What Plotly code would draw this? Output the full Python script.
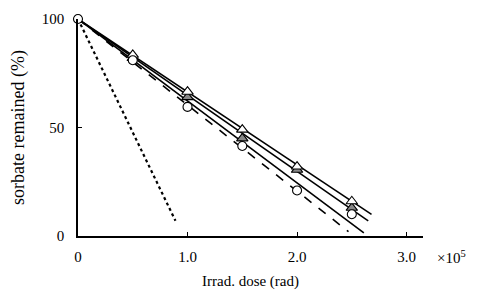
import plotly.graph_objects as go

# Data
dose = [0.5, 1.0, 1.5, 2.0, 2.5]
tri_open = [83.5, 66.5, 49, 32, 16]
tri_gray = [82, 64, 45, 30.5, 13]
circ_open = [81, 59.5, 41.5, 21, 10]

origin_x = [0]
origin_y = [100]

# Fitted lines (start, end)
line_top_x = [0, 2.68]
line_top_y = [100, 10]
line_mid_x = [0, 2.65]
line_mid_y = [100, 7]
line_low_x = [0, 2.61]
line_low_y = [100, 1.4]
line_dash_x = [0, 2.47]
line_dash_y = [100, 2]
line_dot_x = [0, 0.89]
line_dot_y = [100, 7]

x_ticks = [0, 1.0, 2.0, 3.0]
x_ticktext = ["0", "1.0", "2.0", "3.0"]
y_ticks = [0, 50, 100]
y_ticktext = ["0", "50", "100"]

FONT = "Liberation Serif"

fig = go.Figure()

def add_line(x, y, dash, width=1.6):
    fig.add_trace(go.Scatter(x=x, y=y, mode="lines",
                             line=dict(color="black", width=width, dash=dash),
                             showlegend=False, hoverinfo="skip", cliponaxis=False))

add_line(line_top_x, line_top_y, "solid")
add_line(line_mid_x, line_mid_y, "solid")
add_line(line_low_x, line_low_y, "solid")
add_line(line_dash_x, line_dash_y, "dash")
add_line(line_dot_x, line_dot_y, "dot", width=2.2)

fig.add_trace(go.Scatter(x=dose, y=tri_gray, mode="markers",
                         marker=dict(symbol="triangle-up", size=10, color="#888888",
                                     line=dict(color="black", width=1.1)),
                         showlegend=False, cliponaxis=False))
fig.add_trace(go.Scatter(x=dose, y=tri_open, mode="markers",
                         marker=dict(symbol="triangle-up", size=10, color="white",
                                     line=dict(color="black", width=1.1)),
                         showlegend=False, cliponaxis=False))
fig.add_trace(go.Scatter(x=dose, y=circ_open, mode="markers",
                         marker=dict(symbol="circle", size=9, color="white",
                                     line=dict(color="black", width=1.1)),
                         showlegend=False, cliponaxis=False))
fig.add_trace(go.Scatter(x=origin_x, y=origin_y, mode="markers",
                         marker=dict(symbol="circle", size=9, color="white",
                                     line=dict(color="black", width=1.1)),
                         showlegend=False, cliponaxis=False))

fig.update_layout(
    width=479, height=289,
    margin=dict(l=70, r=63.5, t=11, b=61),
    paper_bgcolor="white", plot_bgcolor="white",
    font=dict(family=FONT, size=15, color="black"),
    xaxis=dict(range=[0, 3.15], tickvals=x_ticks, ticktext=x_ticktext,
               automargin=False,
               showgrid=False, zeroline=False, showline=True, linecolor="black",
               linewidth=1.5, ticks="inside", ticklen=4, tickcolor="black",
               ticklabelstandoff=6,
               tickfont=dict(family=FONT, size=15),
               title=dict(text="Irrad. dose (rad)", font=dict(family=FONT, size=15), standoff=12)),
    yaxis=dict(range=[0, 100], tickvals=y_ticks, ticktext=y_ticktext,
               automargin=False,
               showgrid=False, zeroline=False, showline=True, linecolor="black",
               linewidth=1.5, ticks="inside", ticklen=4, tickcolor="black",
               ticklabelstandoff=9,
               tickfont=dict(family=FONT, size=15),
               title=dict(text="sorbate remained (%)", font=dict(family=FONT, size=18), standoff=16)),
)

fig.add_annotation(text="×10<sup>5</sup>", xref="paper", yref="paper",
                   x=1.035, y=-0.097, xanchor="left", yanchor="middle",
                   showarrow=False, font=dict(family=FONT, size=15))

fig.write_html("out.html")
